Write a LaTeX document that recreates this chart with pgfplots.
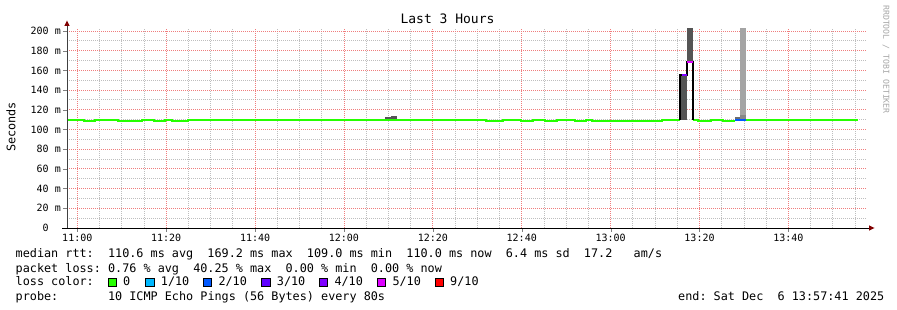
\documentclass[border=0pt]{standalone}
\usepackage{fontspec}
\setmainfont{DejaVu Sans Mono}
\setmonofont{DejaVu Sans Mono}
\usepackage{pgfplots}
\pgfplotsset{compat=1.18}
\definecolor{lc0}{HTML}{26FF00}
\definecolor{lc1}{HTML}{00B8FF}
\definecolor{lc2}{HTML}{0059FF}
\definecolor{lc3}{HTML}{5E00FF}
\definecolor{lc4}{HTML}{7E00FF}
\definecolor{lc5}{HTML}{DD00FF}
\definecolor{lc9}{HTML}{FF0000}
\definecolor{majgrid}{RGB}{240,125,125}
\definecolor{mingrid}{RGB}{190,190,190}
\definecolor{arrowred}{HTML}{800000}
\definecolor{smokedark}{HTML}{555555}
\definecolor{smokemid}{HTML}{6E6E6E}
\definecolor{smokemid2}{HTML}{888888}
\definecolor{smokelight}{HTML}{A4A4A4}
\newcommand{\fs}[1]{\fontsize{#1}{#1}\selectfont}
\begin{document}
\begin{tikzpicture}[x=1pt,y=1pt]
\path[use as bounding box] (0,0) rectangle (897,310);
% grid (drawn behind the axis contents)
\begin{scope}[line width=0.9pt, dash pattern=on 1pt off 1pt]
\foreach \v in {10,30,...,190} \draw[mingrid] (67,{82+\v*0.98498}) -- (867,{82+\v*0.98498});
\foreach \t in {5,10,15,25,30,35,45,50,55,65,70,75,85,90,95,105,110,115,125,130,135,145,150,155,165,170,175}
  \draw[mingrid] ({67+(\t+2.317)*4.44444},82) -- ({67+(\t+2.317)*4.44444},282);
\foreach \v in {20,40,...,200} \draw[majgrid] (67,{82+\v*0.98498}) -- (867,{82+\v*0.98498});
\foreach \t in {0,20,...,160}
  \draw[majgrid] ({67+(\t+2.317)*4.44444},82) -- ({67+(\t+2.317)*4.44444},282);
\end{scope}
\begin{axis}[
  at={(67pt,82pt)}, anchor=south west,
  scale only axis, width=800pt, height=200pt,
  xmin=-2.317, xmax=177.683, ymin=0, ymax=203.05,
  axis line style={draw=none},
  clip=false,
  xtick={0,20,...,160},
  xticklabels={11:00,11:20,11:40,12:00,12:20,12:40,13:00,13:20,13:40},
  ytick={0,20,...,200},
  yticklabels={0\phantom{~m},20~m,40~m,60~m,80~m,100~m,120~m,140~m,160~m,180~m,200~m},
  xtick pos=bottom, ytick pos=left,
  tick align=outside,
  major tick length=4pt, minor tick length=0pt,
  ticklabel style={font=\ttfamily\fs{10}, inner sep=0pt},
  xticklabel style={anchor=north, yshift=-2pt},
  yticklabel style={anchor=east, xshift=-2pt},
]
% smoke
\addplot[fill=smokedark, draw=none] coordinates {(69.24,110)(70.59,110)(70.59,112.7)(69.24,112.7)};
\addplot[fill=smokedark, draw=none] coordinates {(70.59,110)(71.94,110)(71.94,114.0)(70.59,114.0)};
\addplot[fill=smokedark, draw=none] coordinates {(135.62,110)(137.2,110)(137.2,155.3)(135.62,155.3)};
\addplot[fill=smokedark, draw=none] coordinates {(137.2,168.5)(138.54,168.5)(138.54,203.05)(137.2,203.05)};
\addplot[fill=smokemid, draw=none] coordinates {(147.99,110.6)(149.11,110.6)(149.11,113.0)(147.99,113.0)};
\addplot[fill=smokemid2, draw=none] coordinates {(149.11,110.6)(150.47,110.6)(150.47,114.7)(149.11,114.7)};
\addplot[fill=smokelight, draw=none] coordinates {(149.11,114.7)(150.47,114.7)(150.47,203.05)(149.11,203.05)};
% median (loss 0)
\addplot[const plot, lc0, line width=2pt] coordinates {(-2.317,110.1)(1.51,109.1)(3.98,110.1)(9.16,109.1)(14.56,110.1)(17.26,109.1)(19.73,110.1)(21.31,109.1)(24.91,110.1)(91.96,109.1)(95.79,110.1)(99.84,109.1)(102.54,110.1)(105.24,109.1)(107.94,110.1)(111.99,109.1)(114.47,110.1)(115.82,109.1)(131.57,110.1)(135.62,110.1)};
\addplot[const plot, lc0, line width=2pt] coordinates {(138.54,110.1)(139.66,109.1)(142.59,110.1)(145.29,109.1)(147.99,109.1)};
\addplot[const plot, lc0, line width=2pt] coordinates {(150.47,110.1)(175.67,110.1)};
% median with loss
\addplot[black, line width=1.5pt] coordinates {(135.62,110.1)(135.62,155.3)(137.2,155.3)(137.2,168.5)(138.54,168.5)(138.54,110.1)};
\addplot[lc4, line width=2pt] coordinates {(136.0,155.3)(137.2,155.3)};
\addplot[lc5, line width=2pt] coordinates {(137.2,168.5)(138.54,168.5)};
\addplot[lc2, line width=2pt] coordinates {(147.99,109.3)(150.47,109.3)};
\end{axis}
% axes
\draw[black!75, line width=0.8pt] (67,82) -- (67,285);
\fill[arrowred] (64.3,284) -- (69.7,284) -- (67,289.5) -- cycle;
\draw[black, line width=0.8pt] (62,82) -- (869,82);
\fill[arrowred] (869,84.7) -- (869,79.3) -- (874.5,82) -- cycle;
% texts
\node[font=\ttfamily\fs{13}] at (447.5,291) {Last 3 Hours};
\node[rotate=90, font=\ttfamily\fs{11.8}] at (11,183) {Seconds};
\node[rotate=-90, anchor=west, inner sep=0pt, text=black!35, font=\ttfamily\fs{8.2}] at (886,305) {RRDTOOL / TOBI OETIKER};
\begin{scope}[every node/.style={anchor=base west, inner sep=0pt, font=\ttfamily\fs{11.8}}]
\node at (15.5,52) {median~rtt:~~110.6~ms~avg~~169.2~ms~max~~109.0~ms~min~~110.0~ms~now~~6.4~ms~sd~~17.2~~~am/s};
\node at (15.5,37.7) {packet~loss:~0.76~\%~avg~~40.25~\%~max~~0.00~\%~min~~0.00~\%~now};
\node at (15.5,24) {loss~color:};
\node at (15.5,9.3) {probe:~~~~~~~10~ICMP~Echo~Pings~(56~Bytes)~every~80s};
\node at (678,9.3) {end:~Sat~Dec~~6~13:57:41~2025};
\node at (123,24) {0};
\node at (160.7,24) {1/10};
\node at (218.3,24) {2/10};
\node at (276.7,24) {3/10};
\node at (334.3,24) {4/10};
\node at (392.3,24) {5/10};
\node at (450,24) {9/10};
\end{scope}
\foreach \bx/\bc in {108.3/lc0,145.7/lc1,203.3/lc2,261.7/lc3,319.3/lc4,377.3/lc5,435/lc9}
  \filldraw[fill=\bc, draw=black, line width=0.8pt] (\bx,23.8) rectangle ++(8.2,8.2);
\end{tikzpicture}
\end{document}
